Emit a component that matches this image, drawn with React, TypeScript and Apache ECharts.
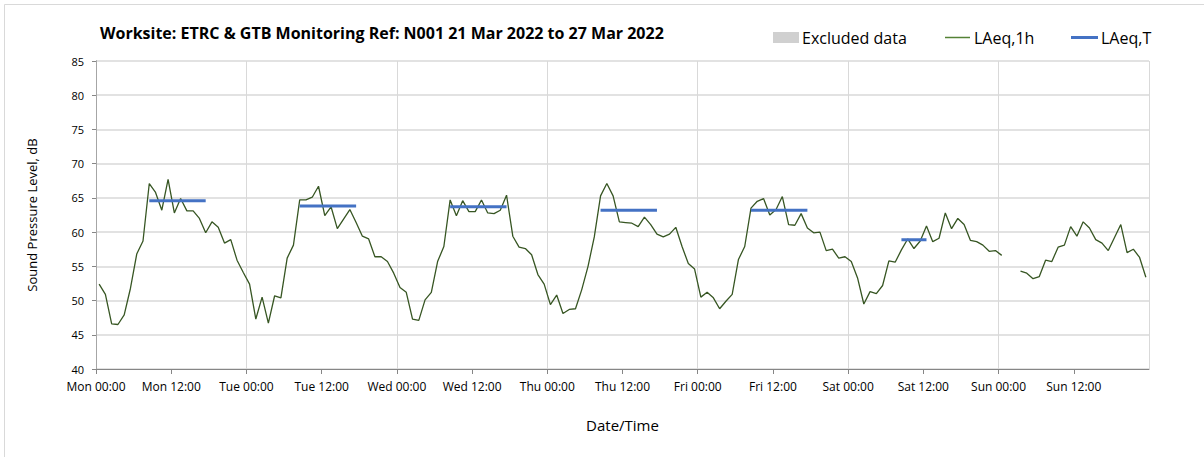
import React, { useEffect, useRef } from "react";
import * as echarts from "echarts";

const dayNames = ["Mon", "Tue", "Wed", "Thu", "Fri", "Sat", "Sun"];

const mon = [52.4, 50.9, 46.6, 46.5, 47.9, 51.8, 56.8, 58.7, 67.1, 65.8, 63.2, 67.7, 62.8, 64.9, 63.1, 63.1, 62.0, 59.9, 61.5, 60.7, 58.4, 58.9, 55.9, 54.1];
const tue = [52.4, 47.3, 50.5, 46.7, 50.7, 50.4, 56.2, 58.1, 64.7, 64.7, 65.1, 66.7, 62.4, 63.7, 60.5, 61.9, 63.3, 61.4, 59.4, 59.0, 56.4, 56.4, 55.7, 54.0];
const wed = [51.9, 51.2, 47.3, 47.1, 50.1, 51.2, 55.7, 57.9, 64.7, 62.4, 64.6, 63.0, 63.0, 64.7, 62.8, 62.7, 63.2, 65.4, 59.4, 57.8, 57.6, 56.7, 53.8, 52.4];
const thu = [49.4, 50.8, 48.1, 48.7, 48.8, 51.6, 55.0, 59.3, 65.3, 67.1, 65.3, 61.5, 61.4, 61.3, 60.8, 62.2, 61.1, 59.7, 59.3, 59.7, 60.7, 57.9, 55.4, 54.6];
const fri = [50.5, 51.2, 50.4, 48.8, 49.9, 50.9, 56.0, 57.9, 63.5, 64.5, 64.9, 62.5, 63.3, 65.2, 61.1, 61.0, 62.7, 60.6, 59.9, 60.0, 57.3, 57.5, 56.2, 56.4];
const sat = [55.7, 53.3, 49.5, 51.3, 51.0, 52.2, 55.8, 55.6, 57.4, 59.0, 57.6, 58.7, 60.9, 58.6, 59.1, 62.8, 60.5, 62.0, 61.1, 58.8, 58.6, 58.1, 57.2, 57.3];
const sun = [56.6, null, null, 54.3, 54.0, 53.2, 53.5, 55.9, 55.7, 57.8, 58.1, 60.8, 59.4, 61.5, 60.6, 58.9, 58.4, 57.3, 59.2, 61.1, 57.0, 57.5, 56.3, 53.4];

const hourly: (number | null)[][] = [mon, tue, wed, thu, fri, sat, sun];

// LAeq,T per day
const laeqTDays = [0, 1, 2, 3, 4, 5];
const laeqTStart = [8, 8, 8, 8, 8, 8];
const laeqTEnd = [17, 17, 17, 17, 17, 12];
const laeqTValues = [64.6, 63.8, 63.7, 63.2, 63.2, 58.9];

const legendNames = ["Excluded data", "LAeq,1h", "LAeq,T"];

const FONT = "Open Sans";
const GREEN = "#375623";
const BLUE = "#4472C4";

export default function App() {
  const ref = useRef<HTMLDivElement>(null);
  useEffect(() => {
    if (!ref.current) return;
    const chart = echarts.init(ref.current, undefined, { renderer: "svg" });

    const lineData: any[] = [];
    hourly.forEach((day, d) => {
      day.forEach((v, h) => {
        lineData.push([d * 24 + h + 0.5, v === null ? null : v]);
      });
    });

    const tSeries = laeqTDays.map((d, i) => ({
      name: "LAeq,T",
      type: "line",
      symbol: "none",
      silent: true,
      lineStyle: { color: BLUE, width: 3 },
      itemStyle: { color: BLUE },
      data: [
        [d * 24 + laeqTStart[i] + 0.5, laeqTValues[i]],
        [d * 24 + laeqTEnd[i] + 0.5, laeqTValues[i]],
      ],
      z: 3,
    }));

    const legendText = { fontFamily: FONT, fontSize: 16, fill: "#000" };

    chart.setOption({
      animation: false,
      backgroundColor: "#ffffff",
      textStyle: { fontFamily: FONT },
      title: {
        text: "Worksite: ETRC & GTB Monitoring Ref: N001 21 Mar 2022 to 27 Mar 2022",
        left: 95,
        top: 20,
        textStyle: { fontFamily: FONT, fontSize: 16, fontWeight: "bold", color: "#000" },
      },
      graphic: [
        {
          type: "rect",
          shape: { x: 4.5, y: 4.5, width: 1220, height: 470 },
          style: { fill: "none", stroke: "#d9d9d9", lineWidth: 1 },
          silent: true,
        },
        {
          type: "rect",
          shape: { x: 773, y: 32, width: 26, height: 11 },
          style: { fill: "#d0d0d0" },
          silent: true,
        },
        {
          type: "text",
          x: 802,
          y: 38,
          style: { ...legendText, text: legendNames[0], verticalAlign: "middle" },
          silent: true,
        },
        {
          type: "line",
          shape: { x1: 945, y1: 37.5, x2: 970, y2: 37.5 },
          style: { stroke: "#548235", lineWidth: 1.5 },
          silent: true,
        },
        {
          type: "text",
          x: 974,
          y: 38,
          style: { ...legendText, text: legendNames[1], verticalAlign: "middle" },
          silent: true,
        },
        {
          type: "line",
          shape: { x1: 1071, y1: 37.5, x2: 1098, y2: 37.5 },
          style: { stroke: BLUE, lineWidth: 3 },
          silent: true,
        },
        {
          type: "text",
          x: 1101,
          y: 38,
          style: { ...legendText, text: legendNames[2], verticalAlign: "middle" },
          silent: true,
        },
      ],
      grid: { left: 96, right: 55, top: 61, bottom: 88, containLabel: false },
      xAxis: [
        {
          type: "value",
          min: 0,
          max: 168,
          interval: 12,
          name: "Date/Time",
          nameLocation: "middle",
          nameGap: 48,
          nameTextStyle: { fontFamily: FONT, fontSize: 15, color: "#000" },
          axisLine: { show: true, lineStyle: { color: "#868686", width: 1 } },
          axisTick: { show: true, length: 5, lineStyle: { color: "#868686" } },
          axisLabel: {
            fontFamily: FONT,
            fontSize: 12,
            color: "#000",
            margin: 11,
            showMaxLabel: false,
            formatter: (v: number) => {
              if (v >= 168) return "";
              const d = Math.floor(v / 24);
              const h = v % 24;
              return dayNames[d] + " " + (h === 0 ? "00:00" : "12:00");
            },
          },
          splitLine: { show: false },
        },
        {
          type: "value",
          min: 0,
          max: 168,
          interval: 24,
          position: "bottom",
          axisLine: { show: false },
          axisTick: { show: false },
          axisLabel: { show: false },
          splitLine: { show: true, lineStyle: { color: "#d9d9d9", width: 1 } },
        },
      ],
      yAxis: [
        {
          type: "value",
          min: 40,
          max: 85,
          interval: 5,
          name: "Sound Pressure Level, dB",
          nameLocation: "middle",
          nameGap: 58,
          nameTextStyle: { fontFamily: FONT, fontSize: 13, color: "#000" },
          axisLine: { show: true, lineStyle: { color: "#868686", width: 1 } },
          axisTick: { show: true, length: 4, lineStyle: { color: "#868686" } },
          axisLabel: { fontFamily: FONT, fontSize: 11, color: "#000", margin: 12 },
          splitLine: { show: true, lineStyle: { color: "#d9d9d9", width: 1.5 } },
        },
        {
          type: "value",
          min: 40,
          max: 85,
          interval: 5,
          position: "right",
          axisLine: { show: true, lineStyle: { color: "#a6a6a6", width: 1 } },
          axisTick: { show: false },
          axisLabel: { show: false },
          splitLine: { show: false },
        },
      ],
      series: [
        {
          name: "LAeq,1h",
          type: "line",
          symbol: "none",
          connectNulls: false,
          silent: true,
          lineStyle: { color: GREEN, width: 1.3 },
          itemStyle: { color: GREEN },
          data: lineData,
          z: 2,
        },
        ...tSeries,
      ],
    });
    return () => chart.dispose();
  }, []);
  return (
    <div style={{ position: "absolute", left: 0, top: 0, width: 1204, height: 457, background: "#fff" }}>
      <div ref={ref} style={{ width: 1204, height: 457 }} />
    </div>
  );
}
